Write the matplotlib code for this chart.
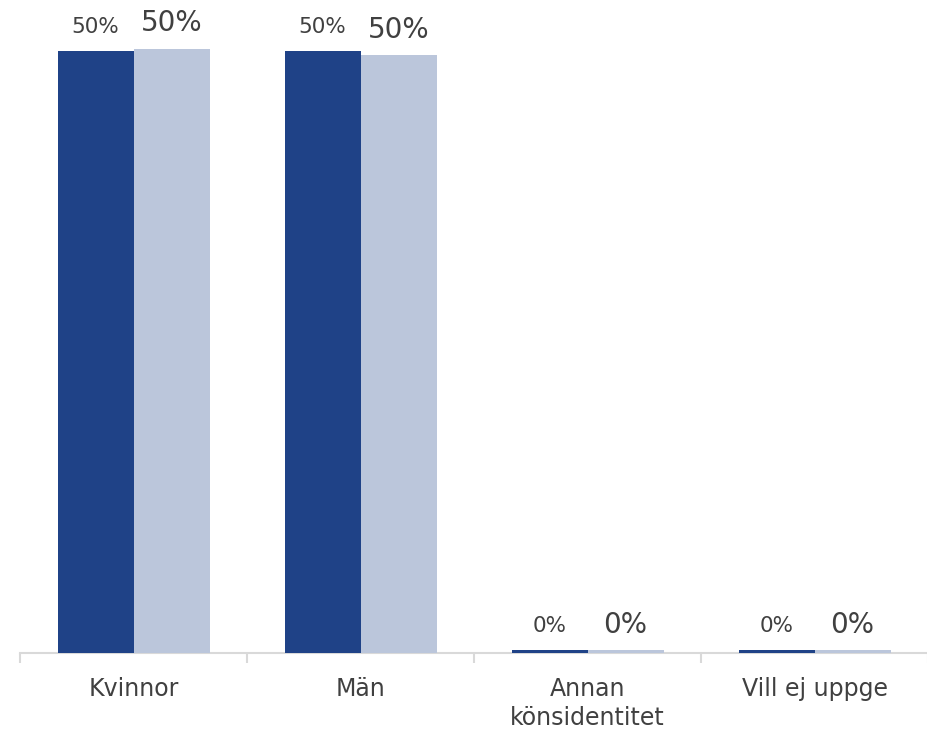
import matplotlib
matplotlib.use("Agg")
import matplotlib.pyplot as plt
import numpy as np

categories = ["Kvinnor", "Män", "Annan\nkönsidentitet", "Vill ej uppge"]
series_a = [50.0, 50.0, 0.25, 0.25]
series_b = [50.2, 49.7, 0.25, 0.25]
labels_a = ["50%", "50%", "0%", "0%"]
labels_b = ["50%", "50%", "0%", "0%"]

color_a = "#1F4287"
color_b = "#BBC6DB"
text_color = "#404040"

W, H = 927, 734
fig = plt.figure(figsize=(W / 100, H / 100), dpi=100)
ax = fig.add_axes([20 / W, (H - 653) / H, 908 / W, 653 / H])

x = np.arange(len(categories))
bw = 76 / 227
ax.bar(x - bw / 2, series_a, width=bw, color=color_a, zorder=3)
ax.bar(x + bw / 2, series_b, width=bw, color=color_b, zorder=3)

ax.set_xlim(-0.5, len(categories) - 0.5)
ax.set_ylim(0, 50 * 653 / 602)

for xi, v, lab in zip(x, series_a, labels_a):
    ax.annotate(lab, (xi - bw / 2, v), xytext=(0, 10), textcoords="offset points",
                ha="center", va="bottom", fontsize=15.5, color=text_color, family="DejaVu Sans")
for xi, v, lab in zip(x, series_b, labels_b):
    ax.annotate(lab, (xi + bw / 2, v), xytext=(0, 8), textcoords="offset points",
                ha="center", va="bottom", fontsize=20, color=text_color, family="DejaVu Sans")

for s in ["top", "right", "left"]:
    ax.spines[s].set_visible(False)
ax.spines["bottom"].set_color("#D9D9D9")
ax.spines["bottom"].set_linewidth(1.5)
ax.spines["bottom"].set_zorder(1)
ax.set_yticks([])
ax.set_xticks(x)
ax.set_xticklabels(categories, fontsize=17, color=text_color, linespacing=1.3,
                   va="top")
ax.tick_params(axis="x", length=0, pad=17)
ax.set_xticks(np.arange(-0.5, len(categories) + 0.5), minor=True)
ax.tick_params(axis="x", which="minor", length=7, width=1.5, color="#D9D9D9")

fig.savefig("out.png", dpi=100)
